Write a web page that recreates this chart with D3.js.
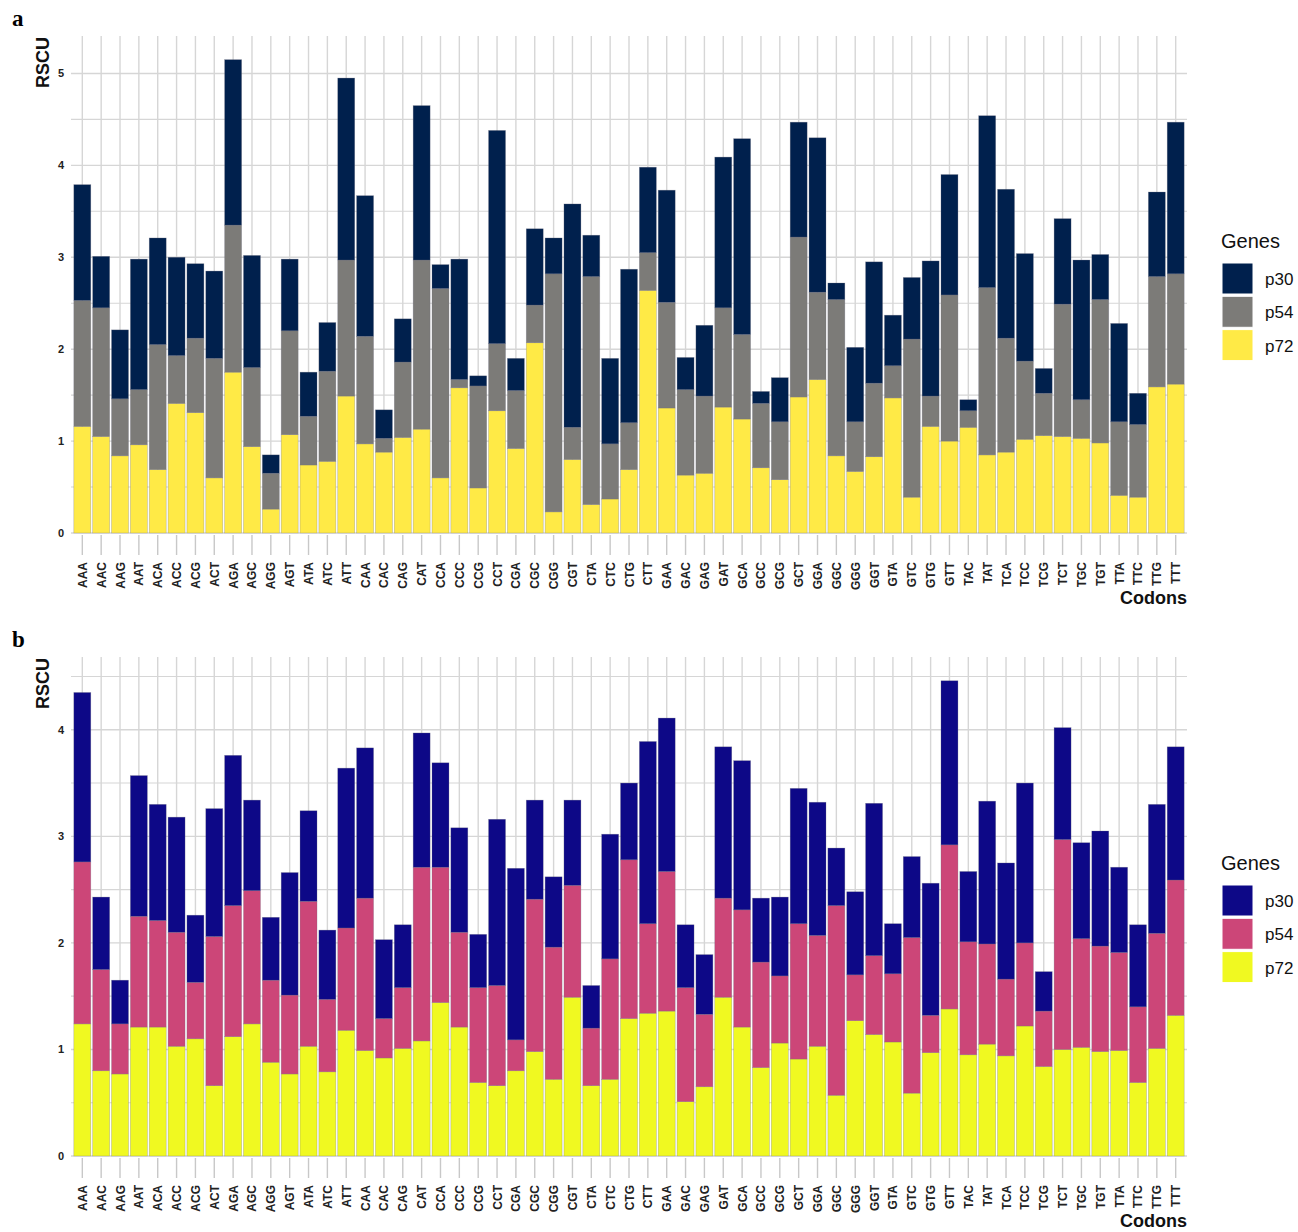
<!DOCTYPE html>
<html>
<head>
<meta charset="utf-8">
<script src="https://cdn.jsdelivr.net/npm/d3@7"></script>
<style>
  body { margin: 0; background: #fff; }
  svg text { font-family: "Liberation Sans", Arial, sans-serif; }
</style>
</head>
<body>
<svg id="chart"></svg>
<script>
const codons = ["AAA","AAC","AAG","AAT","ACA","ACC","ACG","ACT","AGA","AGC","AGG","AGT","ATA","ATC","ATT",
  "CAA","CAC","CAG","CAT","CCA","CCC","CCG","CCT","CGA","CGC","CGG","CGT","CTA","CTC","CTG","CTT",
  "GAA","GAC","GAG","GAT","GCA","GCC","GCG","GCT","GGA","GGC","GGG","GGT","GTA","GTC","GTG","GTT",
  "TAC","TAT","TCA","TCC","TCG","TCT","TGC","TGT","TTA","TTC","TTG","TTT"];

const genes = ["p30", "p54", "p72"];

// panel a
const a_p72 = [1.16,1.05,0.84,0.96,0.69,1.41,1.31,0.60,1.75,0.94,0.26,1.07,0.74,0.78,1.49,
  0.97,0.88,1.04,1.13,0.60,1.58,0.49,1.33,0.92,2.07,0.23,0.80,0.31,0.37,0.69,2.64,
  1.36,0.63,0.65,1.37,1.24,0.71,0.58,1.48,1.67,0.84,0.67,0.83,1.47,0.39,1.16,1.00,
  1.15,0.85,0.88,1.02,1.06,1.05,1.03,0.98,0.41,0.39,1.59,1.62];
const a_p54 = [1.37,1.40,0.62,0.60,1.36,0.52,0.81,1.30,1.60,0.86,0.39,1.13,0.53,0.98,1.48,
  1.17,0.15,0.82,1.84,2.06,0.09,1.11,0.73,0.63,0.41,2.59,0.35,2.48,0.60,0.51,0.41,
  1.15,0.93,0.84,1.08,0.92,0.70,0.63,1.74,0.95,1.70,0.54,0.80,0.35,1.72,0.33,1.59,
  0.18,1.82,1.24,0.85,0.46,1.44,0.42,1.56,0.80,0.79,1.20,1.20];
const a_p30 = [1.26,0.56,0.75,1.42,1.16,1.07,0.81,0.95,1.80,1.22,0.20,0.78,0.48,0.53,1.98,
  1.53,0.31,0.47,1.68,0.26,1.31,0.11,2.32,0.35,0.83,0.39,2.43,0.45,0.93,1.67,0.93,
  1.22,0.35,0.77,1.64,2.13,0.13,0.48,1.25,1.68,0.18,0.81,1.32,0.55,0.67,1.47,1.31,
  0.12,1.87,1.62,1.17,0.27,0.93,1.52,0.49,1.07,0.34,0.92,1.65];

// panel b
const b_p72 = [1.24,0.80,0.77,1.21,1.21,1.03,1.10,0.66,1.12,1.24,0.88,0.77,1.03,0.79,1.18,
  0.99,0.92,1.01,1.08,1.44,1.21,0.69,0.66,0.80,0.98,0.72,1.49,0.66,0.72,1.29,1.34,
  1.36,0.51,0.65,1.49,1.21,0.83,1.06,0.91,1.03,0.57,1.27,1.14,1.07,0.59,0.97,1.38,
  0.95,1.05,0.94,1.22,0.84,1.00,1.02,0.98,0.99,0.69,1.01,1.32];
const b_p54 = [1.52,0.95,0.47,1.04,1.00,1.07,0.53,1.40,1.23,1.25,0.77,0.74,1.36,0.68,0.96,
  1.43,0.37,0.57,1.63,1.27,0.89,0.89,0.94,0.29,1.43,1.24,1.05,0.54,1.13,1.49,0.84,
  1.31,1.07,0.68,0.93,1.10,0.99,0.63,1.27,1.04,1.78,0.43,0.74,0.64,1.46,0.35,1.54,
  1.06,0.94,0.72,0.78,0.52,1.97,1.02,0.99,0.92,0.71,1.08,1.27];
const b_p30 = [1.59,0.68,0.41,1.32,1.09,1.08,0.63,1.20,1.41,0.85,0.59,1.15,0.85,0.65,1.50,
  1.41,0.74,0.59,1.26,0.98,0.98,0.50,1.56,1.61,0.93,0.66,0.80,0.40,1.17,0.72,1.71,
  1.44,0.59,0.56,1.42,1.40,0.60,0.74,1.27,1.25,0.54,0.78,1.43,0.47,0.76,1.24,1.54,
  0.66,1.34,1.09,1.50,0.37,1.05,0.90,1.08,0.80,0.77,1.21,1.25];

const yTicks = [0, 1, 2, 3, 4, 5];

const width = 1298, height = 1232;
const svg = d3.select("#chart").attr("width", width).attr("height", height);

const panels = [
  { letter: "a", p30: a_p30, p54: a_p54, p72: a_p72, top: 36, bottom: 533, legendTop: 263,
    colors: ["#00204D", "#7C7B78", "#FFEA46"] },
  { letter: "b", p30: b_p30, p54: b_p54, p72: b_p72, top: 657, bottom: 1156, legendTop: 885,
    colors: ["#0D0887", "#CC4678", "#F0F921"] }
];

const left = 71, right = 1187;
const grid = "#d6d6d6";

const x = d3.scalePoint().domain(codons).range([left, right]).padding(0.6);
const barW = x.step() * 0.9;

panels.forEach((p) => {
  const rows = codons.map((c, i) => ({ codon: c, p30: p.p30[i], p54: p.p54[i], p72: p.p72[i] }));
  const stack = d3.stack().keys(["p72", "p54", "p30"])(rows);
  const maxTotal = d3.max(rows, (d) => d.p30 + d.p54 + d.p72);

  const y = d3.scaleLinear().domain([0, maxTotal * 1.05]).range([p.bottom, p.top]);
  const color = d3.scaleOrdinal().domain(genes).range(p.colors);

  const g = svg.append("g");

  // minor grid
  const ymax = y.domain()[1];
  d3.range(0.5, ymax, 1).forEach((v) => {
    g.append("line")
      .attr("x1", left).attr("x2", right)
      .attr("y1", y(v)).attr("y2", y(v))
      .attr("stroke", grid).attr("stroke-width", 1.1);
  });
  // major grid + labels
  yTicks.filter((v) => v <= ymax).forEach((v) => {
    g.append("line")
      .attr("x1", left).attr("x2", right)
      .attr("y1", y(v)).attr("y2", y(v))
      .attr("stroke", grid).attr("stroke-width", 1.4);
    g.append("text")
      .attr("x", 64).attr("y", y(v))
      .attr("dy", "0.35em")
      .attr("text-anchor", "end")
      .attr("font-size", 11)
      .attr("font-weight", "bold")
      .attr("fill", "#222")
      .text(v);
  });
  // vertical grid + ticks
  codons.forEach((c) => {
    g.append("line")
      .attr("x1", x(c)).attr("x2", x(c))
      .attr("y1", p.top).attr("y2", p.bottom)
      .attr("stroke", grid).attr("stroke-width", 1.4);
    g.append("line")
      .attr("x1", x(c)).attr("x2", x(c))
      .attr("y1", p.bottom + 2).attr("y2", p.bottom + 22)
      .attr("stroke", "#c8c8c8").attr("stroke-width", 1.4);
    g.append("text")
      .attr("transform", `translate(${x(c) + 4.5},${p.bottom + 29}) rotate(-90)`)
      .attr("text-anchor", "end")
      .attr("font-size", 12)
      .attr("font-weight", "bold")
      .attr("fill", "#222")
      .text(c);
  });

  // bars
  g.append("g")
    .selectAll("g")
    .data(stack)
    .join("g")
    .attr("fill", (s) => color(s.key))
    .selectAll("rect")
    .data((s) => s)
    .join("rect")
    .attr("x", (d) => x(d.data.codon) - barW / 2)
    .attr("width", barW)
    .attr("y", (d) => y(d[1]))
    .attr("height", (d) => y(d[0]) - y(d[1]))
    .attr("stroke", "#6f6f80")
    .attr("stroke-opacity", 0.45)
    .attr("stroke-width", 0.6);

  // titles
  g.append("text")
    .attr("transform", `translate(49,${p.top + 1}) rotate(-90)`)
    .attr("text-anchor", "end")
    .attr("font-size", 18)
    .attr("font-weight", "bold")
    .attr("fill", "#111")
    .text("RSCU");
  g.append("text")
    .attr("x", right).attr("y", p.bottom + 71)
    .attr("text-anchor", "end")
    .attr("font-size", 18)
    .attr("font-weight", "bold")
    .attr("fill", "#111")
    .text("Codons");
  g.append("text")
    .attr("x", 12).attr("y", p.top - 10)
    .style("font-family", "'Liberation Serif', 'Times New Roman', serif")
    .attr("font-size", 23)
    .attr("font-weight", "bold")
    .text(p.letter);

  // legend
  const lg = g.append("g").attr("transform", `translate(1222,${p.legendTop})`);
  lg.append("text")
    .attr("x", -1).attr("y", -15)
    .attr("font-size", 20)
    .attr("fill", "#111")
    .text("Genes");
  genes.forEach((k, i) => {
    lg.append("rect")
      .attr("x", 0).attr("y", i * 33.3)
      .attr("width", 31).attr("height", 31)
      .attr("fill", color(k))
      .attr("stroke", "#fff").attr("stroke-width", 1);
    lg.append("text")
      .attr("x", 43).attr("y", i * 33.3 + 16)
      .attr("dy", "0.36em")
      .attr("font-size", 17)
      .attr("fill", "#111")
      .text(k);
  });
});
</script>
</body>
</html>
